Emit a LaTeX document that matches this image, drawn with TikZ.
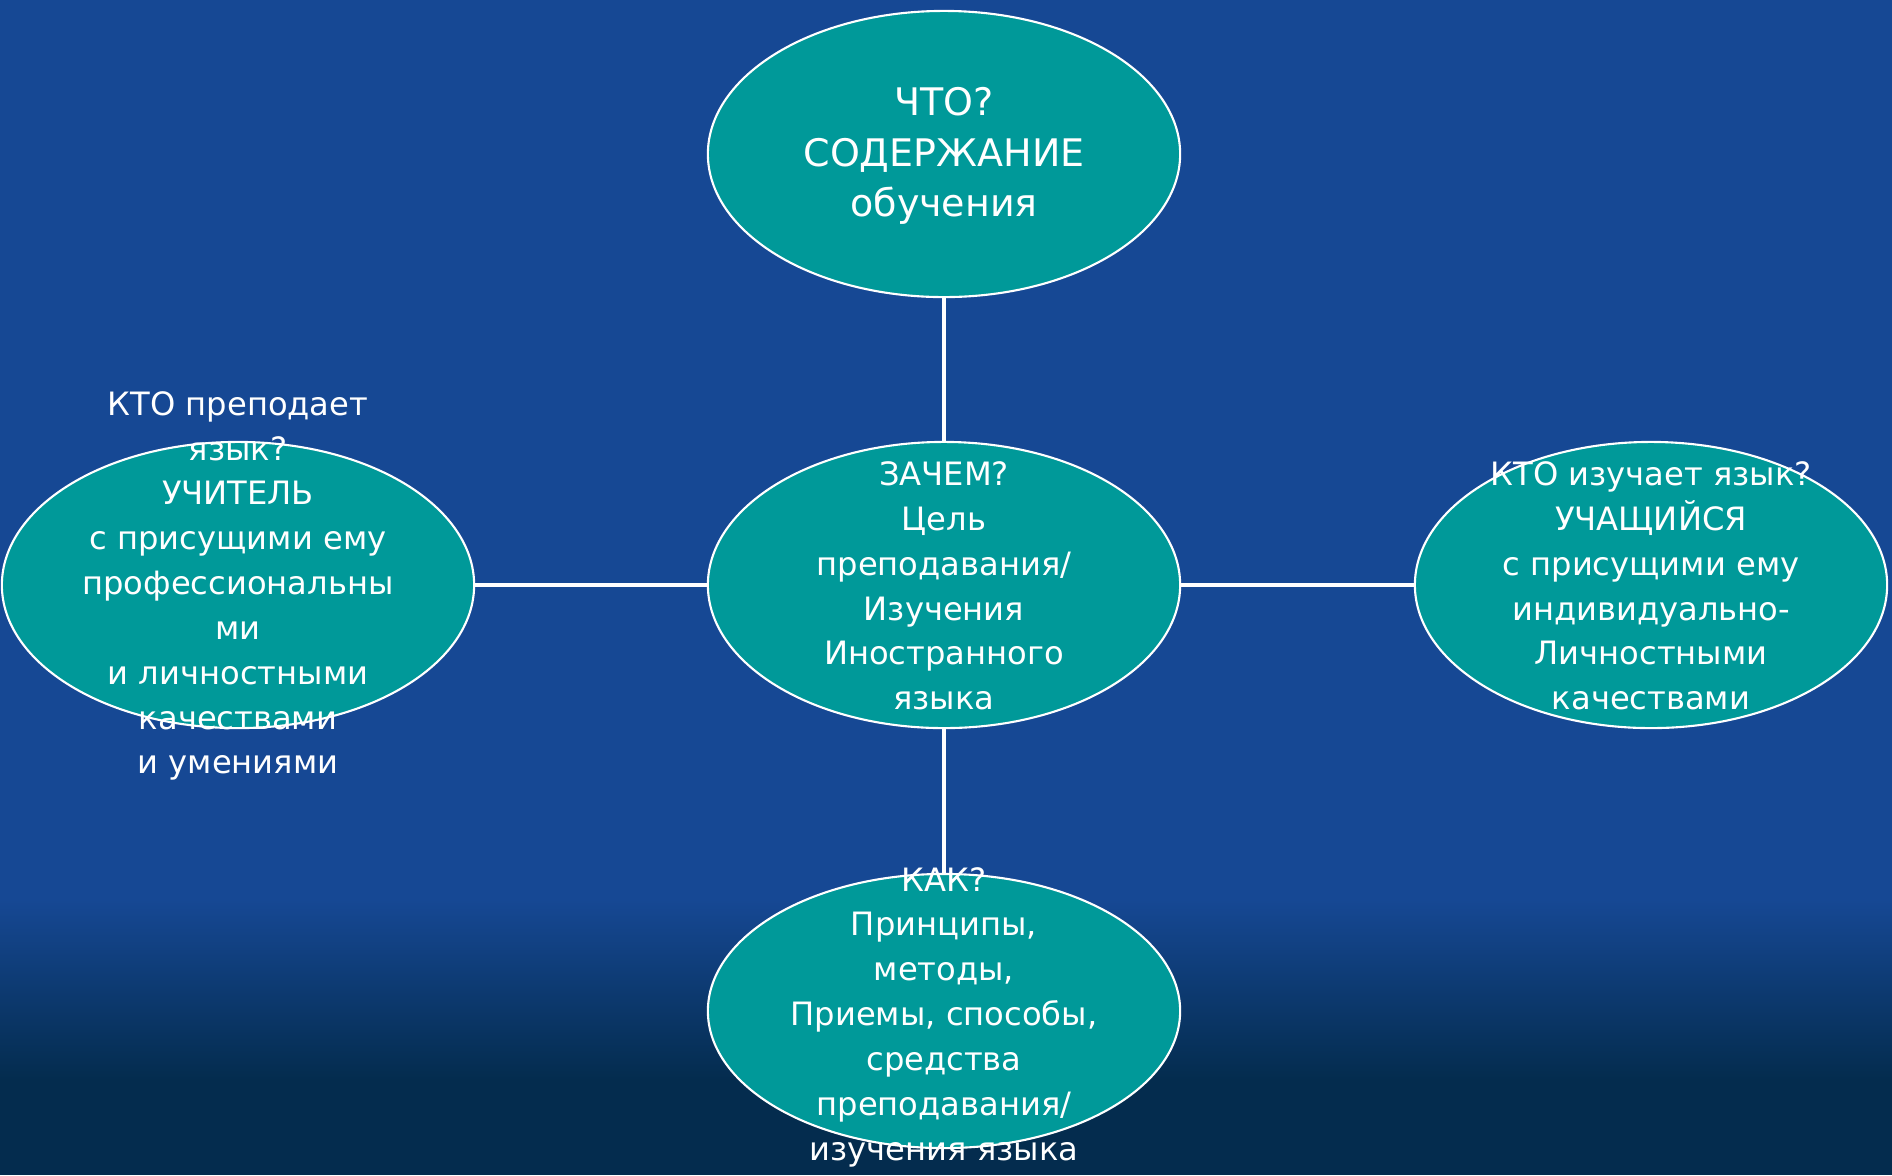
\documentclass[tikz,border=0pt]{standalone}
\usepackage{fontspec}
\setmainfont{DejaVu Sans}
\usetikzlibrary{shapes.geometric}

\definecolor{bgblue}{RGB}{22,72,148}
\definecolor{bgdark}{RGB}{4,44,78}
\definecolor{ovalfill}{RGB}{0,153,153}

\tikzset{
	oval/.style={ellipse, draw=white, line width=0.6pt, fill=ovalfill,
		minimum width=4.72cm, minimum height=2.86cm, inner sep=0pt},
	txt/.style={text=white, align=center, inner sep=0pt,
		font=\fontsize{9.15}{12.75}\selectfont},
	link/.style={draw=white, line width=1.2pt},
}

\begin{document}
\begin{tikzpicture}[x=0.01cm, y=-0.01cm]

	\useasboundingbox (0,0) rectangle (1892,1175);

\fill[bgblue] (0,0) rectangle (1892,900);
\shade[top color=bgblue, bottom color=bgdark] (0,899) rectangle (1892,1080);
\fill[bgdark] (0,1079) rectangle (1892,1175);

\node[oval] (what) at (944,154) {};
\node[oval] (why) at (944,585) {};
\node[oval] (teacher) at (238,585) {};
\node[oval] (learner) at (1651,585) {};
\node[oval, minimum height=2.74cm] (how) at (944,1011) {};

\draw[link] (what) -- (why);
\draw[link] (why) -- (how);
\draw[link] (teacher) -- (why);
\draw[link] (why) -- (learner);

\node[txt, font=\fontsize{10.8}{14.4}\selectfont] (what-t) at (944,156)
	{ЧТО?\\СОДЕРЖАНИЕ\\обучения};
\node[txt] (why-t) at (944,586)
	{ЗАЧЕМ?\\Цель\\преподавания/\\Изучения\\Иностранного\\языка};
\node[txt] (teacher-t) at (238,586)
	{КТО преподает\\язык?\\УЧИТЕЛЬ\\с присущими ему\\профессиональны\\ми\\и личностными\\качествами\\и умениями};
\node[txt] (learner-t) at (1651,586)
	{КТО изучает язык?\\УЧАЩИЙСЯ\\с присущими ему\\индивидуально-\\Личностными\\качествами};
\node[txt] (how-t) at (944,1017)
	{КАК?\\Принципы,\\методы,\\Приемы, способы,\\средства\\преподавания/\\изучения языка};

\end{tikzpicture}
\end{document}
